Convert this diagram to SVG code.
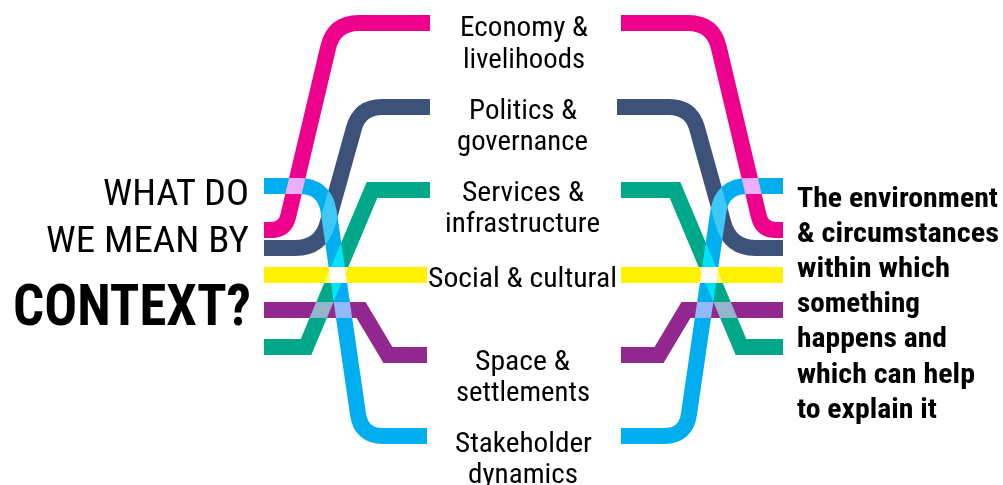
<svg xmlns="http://www.w3.org/2000/svg" width="1003" height="485" viewBox="0 0 1003 485">
<style>
.ln{fill:none;stroke-width:16;stroke-linecap:butt;stroke-linejoin:miter;mix-blend-mode:screen}
.pink{stroke:#ec008c}.navy{stroke:#3d5279}.green{stroke:#00a88a}.yellow{stroke:#fff200}.purple{stroke:#92278f}.blue{stroke:#00aeef}
text{font-family:"Liberation Sans Narrow","Roboto Condensed","Liberation Sans",Arial,sans-serif;fill:#000}
.lab{font-size:28px;text-anchor:middle}
.ttl{font-size:37.5px;text-anchor:end}
.big{font-size:58px;font-weight:bold;text-anchor:end}
.def{font-size:28px;font-weight:bold}
</style>
<rect width="1003" height="485" fill="#fff"/>
<g id="connectors" style="isolation:isolate">
  <path class="ln pink" d="M264 230 H271 Q285 230 288.2 216.4 L328.2 47.3 Q334 23 359 23 H430"/>
  <path class="ln navy" d="M264 248 H295 Q321 248 327.6 223 L354 128 Q360 107 382 107 H430"/>
  <path class="ln green" d="M264 347 H306 L372 190 H430"/>
  <path class="ln yellow" d="M264 275 H427"/>
  <path class="ln purple" d="M264 310 H361 L388 355 H427"/>
  <path class="ln blue" d="M264 186 H299 Q325 186 328.7 211.7 L358 414 Q361 436 383 436 H427"/>
  <path class="ln pink" d="M783 230 H776 Q762 230 758.8 216.4 L718.8 47.3 Q713 23 688 23 H621"/>
  <path class="ln navy" d="M783 248 H756 Q730 248 723.4 223 L697 128 Q691 107 669 107 H617"/>
  <path class="ln green" d="M783 347 H741 L675 190 H621"/>
  <path class="ln yellow" d="M621 275 H783"/>
  <path class="ln purple" d="M783 310 H686 L659 355 H621"/>
  <path class="ln blue" d="M783 186 H748 Q722 186 718.3 211.7 L689 414 Q686 436 664 436 H621"/>
</g>
<g id="title">
  <text class="ttl" x="249" y="205" textLength="146" lengthAdjust="spacingAndGlyphs">WHAT DO</text>
  <text class="ttl" x="249" y="252" textLength="203" lengthAdjust="spacingAndGlyphs">WE MEAN BY</text>
  <text class="big" x="251" y="325" textLength="238" lengthAdjust="spacingAndGlyphs">CONTEXT?</text>
</g>
<g id="node-economy">
  <text class="lab" x="524" y="36" textLength="128" lengthAdjust="spacingAndGlyphs">Economy &amp;</text>
  <text class="lab" x="524" y="68" textLength="122" lengthAdjust="spacingAndGlyphs">livelihoods</text>
</g>
<g id="node-politics">
  <text class="lab" x="523" y="119" textLength="108" lengthAdjust="spacingAndGlyphs">Politics &amp;</text>
  <text class="lab" x="522.5" y="150" textLength="131" lengthAdjust="spacingAndGlyphs">governance</text>
</g>
<g id="node-services">
  <text class="lab" x="523" y="201" textLength="122" lengthAdjust="spacingAndGlyphs">Services &amp;</text>
  <text class="lab" x="522.5" y="232" textLength="155" lengthAdjust="spacingAndGlyphs">infrastructure</text>
</g>
<g id="node-social">
  <text class="lab" x="522.5" y="287" textLength="189" lengthAdjust="spacingAndGlyphs">Social &amp; cultural</text>
</g>
<g id="node-space">
  <text class="lab" x="522.5" y="370" textLength="95" lengthAdjust="spacingAndGlyphs">Space &amp;</text>
  <text class="lab" x="523" y="401" textLength="134" lengthAdjust="spacingAndGlyphs">settlements</text>
</g>
<g id="node-stakeholder">
  <text class="lab" x="523.5" y="452" textLength="137" lengthAdjust="spacingAndGlyphs">Stakeholder</text>
  <text class="lab" x="523" y="483" textLength="110" lengthAdjust="spacingAndGlyphs">dynamics</text>
</g>
<g id="definition">
  <text class="def" x="797" y="207" textLength="201" lengthAdjust="spacingAndGlyphs">The environment</text>
  <text class="def" x="797" y="242" textLength="202" lengthAdjust="spacingAndGlyphs">&amp; circumstances</text>
  <text class="def" x="797" y="277" textLength="153" lengthAdjust="spacingAndGlyphs">within which</text>
  <text class="def" x="797" y="312" textLength="123" lengthAdjust="spacingAndGlyphs">something</text>
  <text class="def" x="797" y="347" textLength="150" lengthAdjust="spacingAndGlyphs">happens and</text>
  <text class="def" x="797" y="383" textLength="178" lengthAdjust="spacingAndGlyphs">which can help</text>
  <text class="def" x="797" y="418" textLength="140" lengthAdjust="spacingAndGlyphs">to explain it</text>
</g>
</svg>
